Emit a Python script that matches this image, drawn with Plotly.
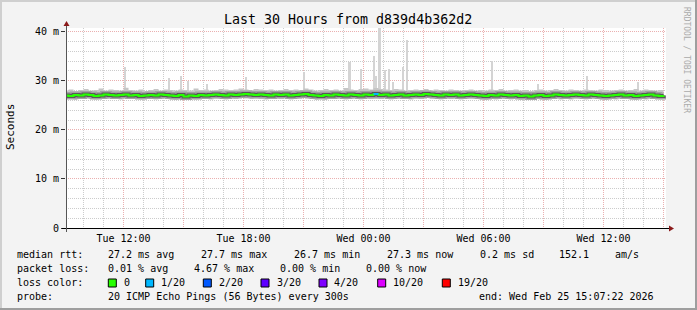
import plotly.graph_objects as go
import pandas as pd

# ---------------- data ----------------
START = "2026-02-24 09:00"
STEP_MIN = 15
median_ms = [
    27.0, 26.9, 27.1, 27.0, 27.2, 27.1, 26.9, 27.0, 27.2, 27.1,
    27.0, 27.1, 27.2, 27.0, 27.1, 26.9, 27.0, 27.1, 27.0, 27.2,
    27.1, 27.0, 26.9, 27.1, 26.8, 27.0, 26.9, 27.1, 27.0, 27.1,
    27.2, 27.1, 27.0, 27.2, 27.1, 27.2, 27.3, 27.2, 27.1, 27.2,
    27.1, 27.0, 27.2, 27.1, 27.2, 27.0, 27.1, 27.2, 27.3, 27.1,
    27.0, 26.9, 27.1, 27.0, 27.2, 27.1, 27.0, 27.2, 27.1, 27.0,
    27.2, 27.1, 27.3, 27.1, 27.2, 27.0, 27.1, 27.2, 27.0, 27.1,
    27.2, 27.1, 27.3, 27.2, 27.1, 27.0, 27.2, 27.1, 27.2, 27.0,
    27.1, 27.2, 27.1, 27.0, 26.9, 27.1, 27.0, 27.2, 27.1, 27.0,
    27.1, 26.9, 27.0, 26.8, 27.0, 27.1, 26.9, 27.0, 27.2, 27.1,
    27.0, 27.1, 27.2, 27.1, 27.0, 27.2, 27.1, 27.0, 26.9, 27.0,
    27.1, 27.2, 27.0, 27.1, 26.9, 27.0, 27.1, 27.2, 27.0, 26.9,
    27.0,
]
low_ms = [
    26.3, 26.4, 26.2, 26.3, 26.5, 26.3, 26.2, 26.4, 26.3, 26.4,
    26.3, 26.2, 26.4, 26.3, 26.4, 26.2, 26.3, 26.4, 26.2, 26.3,
    26.4, 26.2, 26.1, 26.3, 26.2, 26.3, 26.2, 26.4, 26.3, 26.2,
    26.4, 26.3, 26.2, 26.4, 26.3, 26.5, 26.4, 26.3, 26.4, 26.3,
    26.2, 26.3, 26.4, 26.3, 26.5, 26.2, 26.3, 26.4, 26.5, 26.3,
    26.2, 26.3, 26.2, 26.4, 26.3, 26.4, 26.2, 26.3, 26.4, 26.2,
    26.4, 26.3, 26.4, 26.3, 26.5, 26.2, 26.3, 26.4, 26.3, 26.2,
    26.4, 26.3, 26.5, 26.4, 26.3, 26.2, 26.4, 26.3, 26.4, 26.2,
    26.3, 26.4, 26.3, 26.2, 26.1, 26.3, 26.2, 26.4, 26.3, 26.2,
    26.3, 26.1, 26.2, 26.1, 26.3, 26.2, 26.1, 26.3, 26.4, 26.2,
    26.3, 26.2, 26.4, 26.3, 26.2, 26.4, 26.3, 26.2, 26.1, 26.3,
    26.2, 26.4, 26.3, 26.2, 26.1, 26.3, 26.2, 26.4, 26.3, 26.2,
    26.3,
]
high_ms = [
    28.0, 28.2, 27.9, 28.1, 28.3, 28.0, 28.1, 28.4, 28.0, 28.2,
    28.1, 28.0, 28.6, 28.1, 28.0, 28.2, 27.9, 28.1, 28.3, 28.0,
    28.2, 28.1, 28.0, 28.2, 28.1, 28.0, 28.4, 28.1, 28.2, 28.0,
    28.1, 28.3, 28.2, 28.1, 28.2, 28.4, 28.2, 28.1, 28.3, 28.2,
    28.1, 28.2, 28.0, 28.1, 28.3, 28.1, 28.2, 28.1, 28.4, 28.2,
    28.0, 28.1, 28.3, 28.1, 28.2, 28.0, 28.5, 28.2, 28.1, 28.3,
    28.4, 28.2, 28.5, 28.3, 28.2, 28.1, 28.3, 28.2, 28.0, 28.1,
    28.2, 28.1, 28.3, 28.0, 28.2, 28.1, 28.0, 28.2, 28.1, 28.0,
    28.1, 28.2, 28.0, 28.1, 28.0, 28.2, 28.1, 28.3, 28.0, 28.1,
    28.2, 28.0, 28.1, 27.9, 28.1, 28.2, 28.0, 28.1, 28.3, 28.1,
    28.0, 28.2, 28.1, 28.0, 28.2, 28.1, 28.0, 28.2, 28.1, 28.0,
    28.1, 28.2, 28.0, 28.1, 28.3, 28.0, 28.2, 28.1, 28.0, 28.1,
    28.1,
]
spike_times = [
    "2026-02-24 12:04", "2026-02-24 14:16", "2026-02-24 14:52", "2026-02-24 15:13",
    "2026-02-24 16:10", "2026-02-24 18:07", "2026-02-24 21:01", "2026-02-24 23:18",
    "2026-02-24 23:52", "2026-02-25 00:32", "2026-02-25 00:37", "2026-02-25 00:48",
    "2026-02-25 01:04", "2026-02-25 01:16", "2026-02-25 01:28", "2026-02-25 01:58",
    "2026-02-25 02:10", "2026-02-25 06:25", "2026-02-25 08:43", "2026-02-25 11:10",
    "2026-02-25 13:43",
]
spike_ms = [32.9, 30.5, 30.9, 30.0, 29.4, 30.7, 31.7, 33.8, 32.4, 35.1, 31.0, 40.7,
            32.1, 32.3, 29.7, 32.9, 38.4, 34.1, 29.4, 30.9, 29.7]
loss_start = ["2026-02-25 00:30"]
loss_end = ["2026-02-25 00:45"]
loss_level = ["1/20"]

loss_labels = ["0", "1/20", "2/20", "3/20", "4/20", "10/20", "19/20"]
loss_colors = ["#26ff00", "#00b8ff", "#0059ff", "#5e00ff", "#7e00ff", "#dd00ff", "#ff0000"]

y_tick_vals = [0, 10, 20, 30, 40]
y_tick_text = ["0", "10 m", "20 m", "30 m", "40 m"]
x_tick_vals = ["2026-02-24 12:00", "2026-02-24 15:00", "2026-02-24 18:00", "2026-02-24 21:00",
               "2026-02-25 00:00", "2026-02-25 03:00", "2026-02-25 06:00", "2026-02-25 09:00",
               "2026-02-25 12:00", "2026-02-25 15:00"]
x_tick_text = ["Tue 12:00", "", "Tue 18:00", "", "Wed 00:00", "", "Wed 06:00", "", "Wed 12:00", ""]

title_text = "Last 30 Hours from d839d4b362d2"
rtt_label = "median rtt:"
rtt_items = ["27.2 ms avg", "27.7 ms max", "26.7 ms min", "27.3 ms now", "0.2 ms sd", "152.1", "am/s"]
loss_label = "packet loss:"
loss_items = ["0.01 % avg", "4.67 % max", "0.00 % min", "0.00 % now"]
color_label = "loss color:"
probe_label = "probe:"
probe_text = "20 ICMP Echo Pings (56 Bytes) every 300s"
end_text = "end: Wed Feb 25 15:07:22 2026"

# ---------------- layout geometry ----------------
W, H = 697, 310
PL, PR, PT, PB = 66, 666, 28, 228
MONO = "DejaVu Sans Mono"

times = pd.date_range(START, periods=len(median_ms), freq=f"{STEP_MIN}min")


def px(x):
    return (x - PL) / (PR - PL)


def py(y):
    return (PB - y) / (PB - PT)


fig = go.Figure()

# spikes
fig.add_trace(go.Bar(x=spike_times, y=[v - 27.5 for v in spike_ms], base=[27.5] * len(spike_ms),
                     width=[450000] * len(spike_ms), marker=dict(color="#d4d4d4", line=dict(width=0)),
                     showlegend=False, hoverinfo="skip"))
# outer smoke
fig.add_trace(go.Scatter(x=times, y=low_ms, mode="lines", line=dict(width=0, shape="hv"),
                         showlegend=False, hoverinfo="skip"))
fig.add_trace(go.Scatter(x=times, y=high_ms, mode="lines", line=dict(width=0, shape="hv"),
                         fill="tonexty", fillcolor="#c6c6c6", showlegend=False, hoverinfo="skip"))
# inner smoke (styled around the median)
fig.add_trace(go.Scatter(x=times, y=median_ms, mode="lines", line=dict(width=7, color="#a2a2a2", shape="hv"),
                         showlegend=False, hoverinfo="skip"))
fig.add_trace(go.Scatter(x=times, y=median_ms, mode="lines", line=dict(width=4, color="#585858", shape="hv"),
                         showlegend=False, hoverinfo="skip"))
# median line
fig.add_trace(go.Scatter(x=times, y=median_ms, mode="lines", line=dict(width=2, color=loss_colors[0], shape="hv"),
                         showlegend=False, hoverinfo="skip"))
med_series = pd.Series(median_ms, index=times)
for s, e, lvl in zip(loss_start, loss_end, loss_level):
    v = med_series[pd.Timestamp(s)]
    fig.add_trace(go.Scatter(x=[s, e], y=[v, v], mode="lines",
                             line=dict(width=2, color=loss_colors[loss_labels.index(lvl)]),
                             showlegend=False, hoverinfo="skip"))

shapes = []
ann = []

frame = [
    (0, 0, W, 2, "#cfcfcf"), (0, 0, 2, H, "#cfcfcf"),
    (W - 2, 0, W, H, "#9e9e9e"), (0, H - 2, W, H, "#9e9e9e"),
]
for x0, y0, x1, y1, c in frame:
    shapes.append(dict(type="rect", xref="paper", yref="paper", x0=px(x0), x1=px(x1), y0=py(y1), y1=py(y0),
                       fillcolor=c, line=dict(width=0), layer="above"))

# axes lines and arrows
shapes.append(dict(type="line", xref="paper", yref="paper", x0=px(62), x1=px(670), y0=py(228.5), y1=py(228.5),
                   line=dict(color="#000000", width=1)))
shapes.append(dict(type="line", xref="paper", yref="paper", x0=px(66.5), x1=px(66.5), y0=py(232), y1=py(24),
                   line=dict(color="#555555", width=1)))
shapes.append(dict(type="path", xref="paper", yref="paper",
                   path=f"M {px(669)},{py(225.5)} L {px(674)},{py(228.5)} L {px(669)},{py(231.5)} Z",
                   fillcolor="#8b1a1a", line=dict(width=0)))
shapes.append(dict(type="path", xref="paper", yref="paper",
                   path=f"M {px(63.5)},{py(26)} L {px(66.5)},{py(21)} L {px(69.5)},{py(26)} Z",
                   fillcolor="#8b1a1a", line=dict(width=0)))


def text(x, y, s, size=10, anchor="left", color="#000000", angle=0):
    ann.append(dict(x=px(x), y=py(y), xref="paper", yref="paper", text=s, showarrow=False,
                    xanchor=anchor, yanchor="middle", borderpad=0, textangle=angle,
                    font=dict(family=MONO, size=size, color=color)))


text(348, 19, title_text, size=13.3, anchor="center")
text(10, 127, "Seconds", size=11, anchor="center", angle=-90)
text(687, 60, "RRDTOOL / TOBI OETIKER", size=8, anchor="center", color="#aaaaaa", angle=90)

ROW_Y = [254.7, 268.3, 282.5, 296.3]
text(16, ROW_Y[0], rtt_label)
for xx, s in zip([107.3, 200.3, 293.0, 386.0, 479.3, 558.3, 614.3], rtt_items):
    text(xx, ROW_Y[0], s)
text(16, ROW_Y[1], loss_label)
for xx, s in zip([107.3, 193.3, 279.3, 365.0], loss_items):
    text(xx, ROW_Y[1], s)
text(16, ROW_Y[2], color_label)
box_x = [108.3, 145.7, 203.3, 261.0, 319.0, 377.7, 442.3]
lab_x = [123.3, 160.0, 218.3, 276.0, 333.3, 391.7, 456.7]
for bx, lx, lab, col in zip(box_x, lab_x, loss_labels, loss_colors):
    shapes.append(dict(type="rect", xref="paper", yref="paper", x0=px(bx), x1=px(bx + 8), y0=py(287), y1=py(279),
                       fillcolor=col, line=dict(color="#000000", width=1)))
    text(lx, ROW_Y[2], lab)
text(16, ROW_Y[3], probe_label)
text(107.3, ROW_Y[3], probe_text)
text(478.3, ROW_Y[3], end_text)

fig.update_layout(
    width=W, height=H,
    margin=dict(l=PL, r=W - PR, t=PT, b=H - PB, pad=0),
    paper_bgcolor="#f3f3f3", plot_bgcolor="#ffffff",
    showlegend=False, barmode="overlay", bargap=0,
    shapes=shapes, annotations=ann,
    font=dict(family=MONO, size=10, color="#000000"),
    xaxis=dict(type="date", range=["2026-02-24 09:07:22", "2026-02-25 15:07:22"],
               tickmode="array", tickvals=x_tick_vals, ticktext=x_tick_text,
               showgrid=True, gridcolor="#eab0b0", griddash="1px,1px", gridwidth=1,
               minor=dict(dtick=3600000, tick0="2026-02-24 00:00", showgrid=True,
                          gridcolor="#cccccc", griddash="1px,1px", gridwidth=1, ticks=""),
               ticks="", showline=False, zeroline=False, fixedrange=True,
               tickfont=dict(family=MONO, size=10), ticklabelstandoff=3),
    yaxis=dict(range=[0, 40.75], tickmode="array", tickvals=y_tick_vals, ticktext=y_tick_text,
               showgrid=True, gridcolor="#eab0b0", griddash="1px,1px", gridwidth=1,
               minor=dict(dtick=2, tick0=0, showgrid=True, gridcolor="#cccccc",
                          griddash="1px,1px", gridwidth=1, ticks=""),
               ticks="outside", ticklen=4, tickcolor="#333333", showline=False, zeroline=False,
               fixedrange=True, tickfont=dict(family=MONO, size=10)),
)

fig.write_html("out.html")
